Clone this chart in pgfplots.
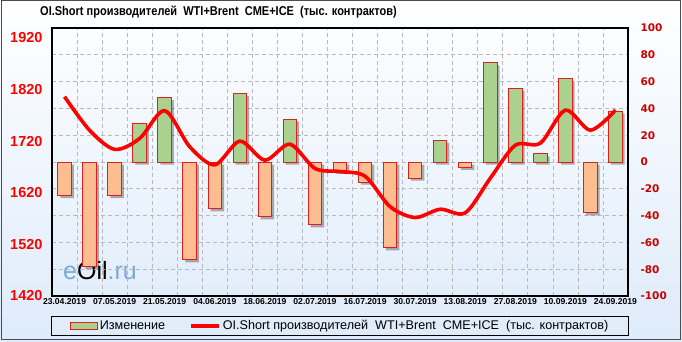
\documentclass[border=0pt]{standalone}
\usepackage{fontspec}
\setmainfont{Liberation Sans}
\newfontfamily\condfont[FakeStretch=0.86]{Liberation Sans}
\newfontfamily\dejavu{DejaVu Sans}
\usepackage{pgfplots}
\pgfplotsset{compat=1.18}
\usetikzlibrary{shadows}
\definecolor{bgblue}{RGB}{222,235,250}
\definecolor{gridgray}{RGB}{185,185,185}
\definecolor{rightred}{RGB}{200,0,0}
\definecolor{orM}{RGB}{252,190,145}
\definecolor{grM}{RGB}{170,210,142}
\definecolor{grR}{RGB}{120,165,95}
\definecolor{barred}{RGB}{225,30,30}
\definecolor{logoblue}{RGB}{120,170,215}
\begin{document}
\begin{tikzpicture}[x=1pt,y=1pt]
\path[use as bounding box] (0,0) rectangle (682,341);
\shade[top color=white, middle color=white, bottom color=bgblue] (0,0) rectangle (682,341);
\draw[gray!60!black, line width=1pt] (1,1.5) rectangle (680.5,340);
\node[anchor=west, inner sep=0pt, font=\condfont\bfseries\fontsize{12.8}{14}\selectfont] at (40,329) {OI.Short производителей\ \ WTI+Brent\ \ CME+ICE\ \ (тыс. контрактов)};
\node[anchor=center, inner sep=0pt, font=\fontsize{25}{28}\selectfont] at (100,70) {\textcolor{logoblue}{e}Oil\textcolor{logoblue}{.ru}};

% bars axis (right scale)
\begin{axis}[
  at={(52pt,45pt)}, anchor=south west, scale only axis,
  width=576pt, height=268pt,
  xmin=-0.5, xmax=22.5, ymin=-100, ymax=100,
  ytick={-100,-80,...,100}, yticklabel pos=right,
  ymajorgrids, xminorgrids,
  grid style={gridgray, dash pattern=on 4pt off 3pt, line width=0.7pt},
  minor grid style={gridgray, dash pattern=on 4pt off 3pt, line width=0.7pt},
  xtick={0,2,...,22},
  xticklabels={23.04.2019,07.05.2019,21.05.2019,04.06.2019,18.06.2019,02.07.2019,16.07.2019,30.07.2019,13.08.2019,27.08.2019,10.09.2019,24.09.2019},
  minor xtick={0.5,1.5,...,21.5},
  major tick length=0pt, minor tick length=0pt,
  axis line style={black, line width=1.3pt},
  /pgf/number format/assume math mode=true,
  /pgf/number format/1000 sep={},
  yticklabel style={font=\dejavu\bfseries\fontsize{10.5}{12}\selectfont, text=rightred, anchor=west},
  ytick style={draw=none},
  xticklabel style={font=\bfseries\fontsize{8.6}{10}\selectfont, yshift=1pt},
  y tick label style={xshift=9pt},
  ybar, bar width=13.5pt,
]
\addplot[bar shift=0pt, draw=barred, line width=1pt, fill=orM,
  drop shadow={shadow xshift=2.5pt, shadow yshift=-2.5pt, opacity=0.3, fill=black, draw=none}]
  coordinates {(0,-25) (1,-78) (2,-25) (5,-73) (6,-35) (8,-41) (10,-47) (11,-7) (12,-15) (13,-64) (14,-12) (16,-4) (21,-38)};
\addplot[bar shift=0pt, draw=barred, line width=1pt, fill=grM,
  drop shadow={shadow xshift=2.5pt, shadow yshift=-2.5pt, opacity=0.3, fill=black, draw=none}]
  coordinates {(3,29) (4,48) (7,51) (9,32) (15,16) (17,74) (18,55) (19,6) (20,62) (22,38)};
\end{axis}

% line axis (left scale)
\begin{axis}[
  at={(52pt,45pt)}, anchor=south west, scale only axis,
  width=576pt, height=268pt,
  xmin=-0.5, xmax=22.5, ymin=1420, ymax=1939,
  ytick={1420,1520,...,1920}, yticklabel pos=left,
  xtick=\empty,
  major tick length=0pt,
  axis line style={black, line width=1.3pt},
  /pgf/number format/assume math mode=true,
  /pgf/number format/1000 sep={},
  yticklabel style={font=\bfseries\fontsize{14.5}{16}\selectfont, text=red, anchor=east, xshift=-6pt},
  legend style={at={(0.5,-0.112)}, anchor=center, draw=black, line width=0.9pt, fill=none,
    inner xsep=18pt, inner ysep=2pt,
    font=\fontsize{12.6}{14}\selectfont},
  legend columns=2,
  legend cell align=left,
  /tikz/every even column/.append style={column sep=22pt},
]
\addlegendimage{legend image code/.code={\draw[draw=barred, line width=1pt, fill=grM] (0pt,-3.5pt) rectangle (27pt,3.5pt);}}
\addlegendentry{Изменение}
\addplot[red, line width=3.6pt, smooth, no markers,
  legend image code/.code={\draw[red, line width=3.6pt] (0pt,0pt) -- (28pt,0pt);}]
  coordinates {(0,1806) (1,1741) (2,1704) (3,1725) (4,1779) (5,1709) (6,1674) (7,1720) (8,1683) (9,1714) (10,1667) (11,1661) (12,1652) (13,1593) (14,1572) (15,1588) (16,1581) (17,1648) (18,1712) (19,1716) (20,1780) (21,1741) (22,1780)};
\addlegendentry{OI.Short производителей\ \ WTI+Brent\ \ CME+ICE\ \ (тыс. контрактов)}
\end{axis}
\end{tikzpicture}
\end{document}
